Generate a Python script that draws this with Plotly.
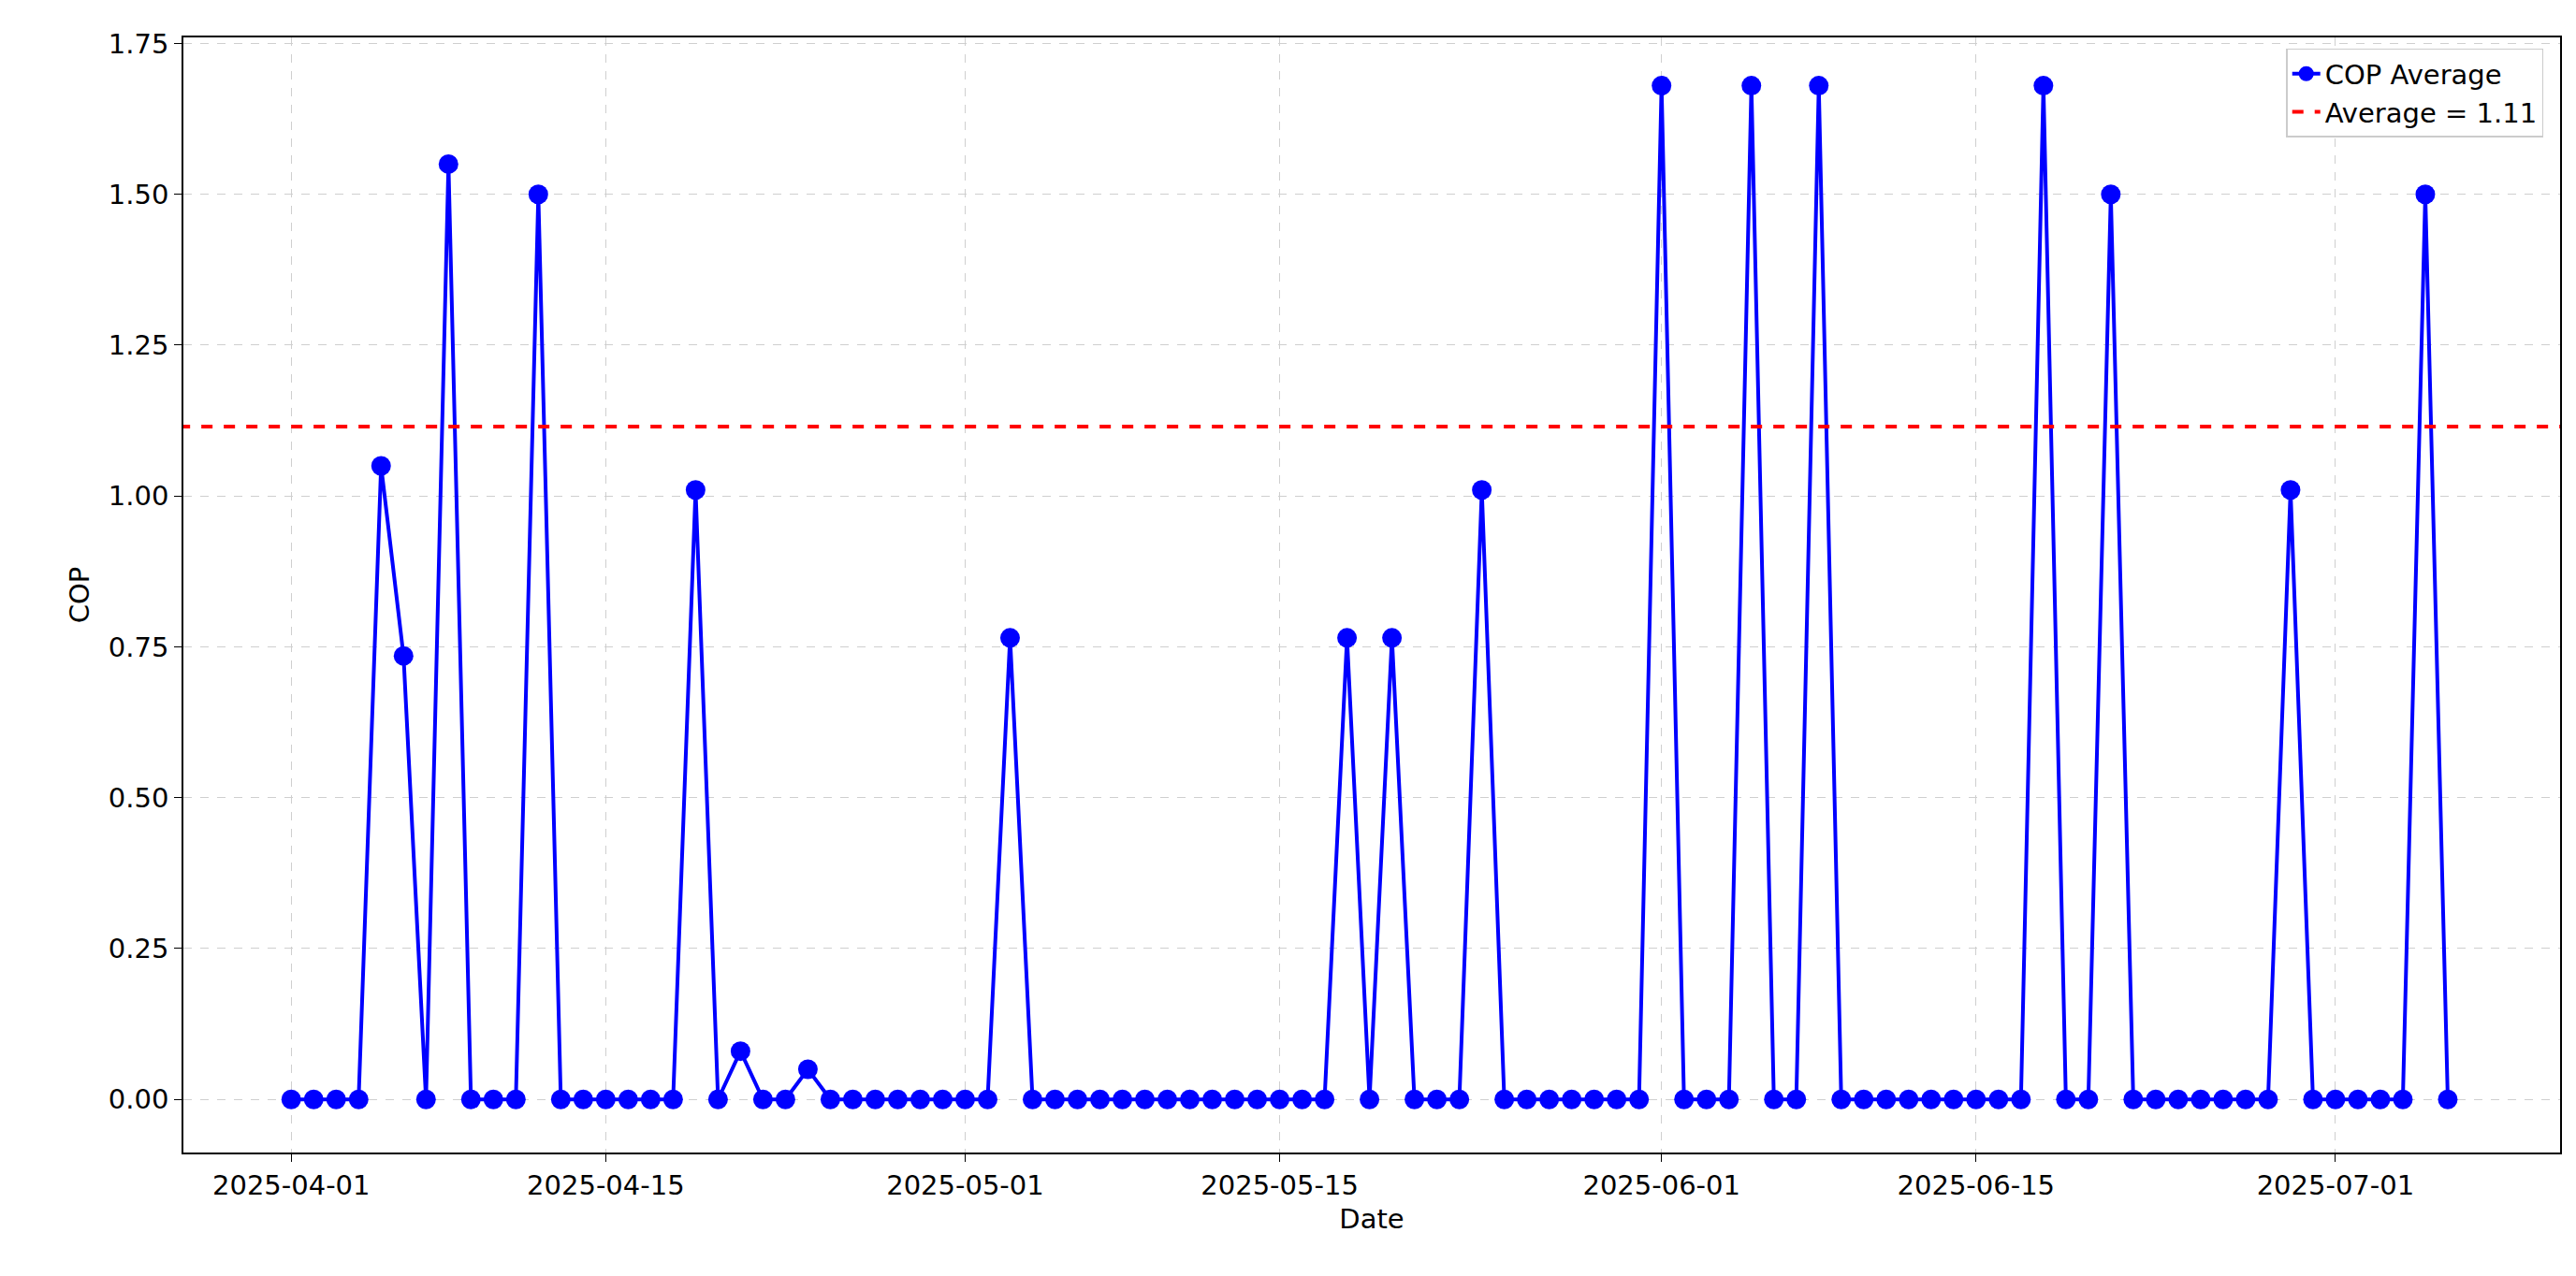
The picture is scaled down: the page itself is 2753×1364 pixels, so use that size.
import plotly.graph_objects as go
import pandas as pd

dates = pd.date_range("2025-04-01", "2025-07-06", freq="D")
nonzero = {4: 1.05, 5: 0.735, 7: 1.55, 11: 1.5, 18: 1.01, 20: 0.08, 23: 0.05, 32: 0.765,
           47: 0.765, 49: 0.765, 53: 1.01, 61: 1.68, 65: 1.68, 68: 1.68, 78: 1.68,
           81: 1.5, 89: 1.01, 95: 1.5}
cop = [nonzero.get(i, 0.0) for i in range(len(dates))]
avg_value = 1.115
tick_dates = ["2025-04-01", "2025-04-15", "2025-05-01", "2025-05-15", "2025-06-01", "2025-06-15", "2025-07-01"]

fig = go.Figure()
fig.add_trace(go.Scatter(x=dates, y=cop, mode="lines+markers", name="COP Average",
                         line=dict(color="blue", width=4), marker=dict(color="blue", size=21)))
fig.add_trace(go.Scatter(x=[dates[0] - pd.Timedelta(days=10), dates[-1] + pd.Timedelta(days=10)],
                         y=[avg_value, avg_value], mode="lines", name="Average = 1.11",
                         line=dict(color="red", width=4, dash="dash")))
axis_common = dict(showline=True, linecolor="black", linewidth=1.5, mirror=True, ticks="outside", ticklen=8,
                   tickcolor="black", gridcolor="#cfcfcf", griddash="dash", zeroline=False,
                   tickfont=dict(size=29, color="black"), title_font=dict(size=29, color="black"))
fig.update_layout(
    width=2753, height=1364, plot_bgcolor="white", paper_bgcolor="white",
    font=dict(family="DejaVu Sans"),
    margin=dict(l=188, r=25, t=32, b=140),
    xaxis=dict(range=[dates[0] - pd.Timedelta(hours=4.8 * 24), dates[0] + pd.Timedelta(days=101)],
               tickvals=tick_dates, ticktext=tick_dates, title_text="Date", title_standoff=10, **axis_common),
    yaxis=dict(range=[-0.088, 1.76], tickvals=[0, 0.25, 0.5, 0.75, 1.0, 1.25, 1.5, 1.75],
               tickformat=".2f", title_text="COP", title_standoff=12, **axis_common),
    legend=dict(x=0.993, y=0.99, xanchor="right", yanchor="top", bordercolor="#cccccc",
                borderwidth=1.5, bgcolor="white", font=dict(size=29, color="black")),
)
fig.write_html("out.html")
